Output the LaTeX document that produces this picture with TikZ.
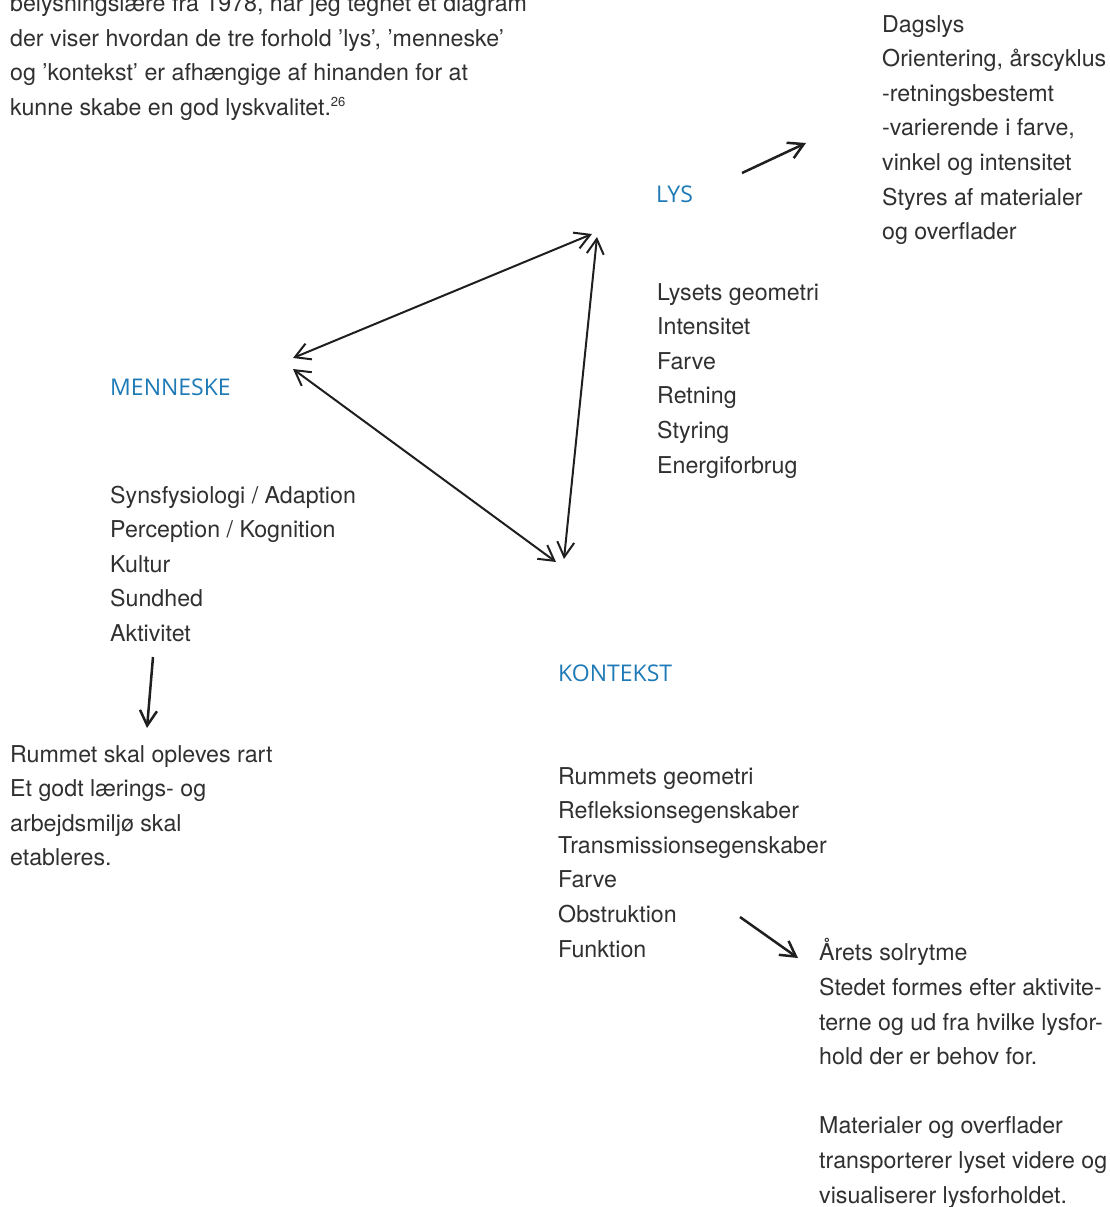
\documentclass[tikz,border=0pt]{standalone}
\usepackage{fontspec}
\setmainfont{TeX Gyre Heros}
\newfontfamily\headfont{Open Sans}
\usetikzlibrary{arrows.meta}
\definecolor{bodygray}{RGB}{48,48,48}
\definecolor{headblue}{RGB}{30,122,182}
\tikzset{
  body/.style={anchor=base west, inner sep=0pt, text=bodygray, align=left,
    font=\fontsize{23.2}{34.6}\selectfont},
  head/.style={anchor=base west, inner sep=0pt, text=headblue,
    font=\headfont\fontsize{23}{24}\selectfont},
  barb/.tip={Straight Barb[length=15pt,width=17pt]},
  arr/.style={draw=black!88, line width=2.5pt, -barb},
  darr/.style={draw=black!88, line width=2pt, barb-barb}
}
\begin{document}
\begin{tikzpicture}[x=1pt,y=-1pt]
\useasboundingbox (0,0) rectangle (1109,1207);
\clip (0,0) rectangle (1109,1207);
% intro paragraph (anchored at the baseline of its last line)
\node[body] (intro) at (10,115.3) {belysningslære fra 1978, har jeg tegnet et diagram\\
der viser hvordan de tre forhold ’lys’, ’menneske’\\
og ’kontekst’ er afhængige af hinanden for at\\
kunne skabe en god lyskvalitet.\textsuperscript{\fontsize{13}{13}\selectfont 26}};
% headings
\node[head] (lys) at (656,202) {LYS};
\node[head] (men) at (110,395) {MENNESKE};
\node[head] (kon) at (558,681) {KONTEKST};
% blocks (anchored at the baseline of their last line)
\node[body] (dag) at (882,239.6) {Dagslys\\Orientering, årscyklus\\-retningsbestemt\\-varierende i farve,\\vinkel og intensitet\\Styres af materialer\\og overflader};
\node[body] (lysb) at (657,473) {Lysets geometri\\Intensitet\\Farve\\Retning\\Styring\\Energiforbrug};
\node[body] (menb) at (110,641.4) {Synsfysiologi / Adaption\\Perception / Kognition\\Kultur\\Sundhed\\Aktivitet};
\node[body] (rum) at (10,865.8) {Rummet skal opleves rart\\Et godt lærings- og\\arbejdsmiljø skal\\etableres.};
\node[body] (konb) at (558,957) {Rummets geometri\\Refleksionsegenskaber\\Transmissionsegenskaber\\Farve\\Obstruktion\\Funktion};
\node[body] (aar) at (819,1203) {Årets solrytme\\Stedet formes efter aktivite-\\terne og ud fra hvilke lysfor-\\hold der er behov for.\\[34.6pt]Materialer og overflader\\transporterer lyset videre og\\visualiserer lysforholdet.};
% arrow end points
\coordinate (lysA) at (742,173);
\coordinate (lysZ) at (806,143);
\coordinate (lysL) at (592,234);
\coordinate (menT) at (293,358);
\coordinate (menB) at (293,369);
\coordinate (konT) at (556,562);
\coordinate (lysD) at (597,237);
\coordinate (konR) at (564,559);
\coordinate (menA) at (153,657);
\coordinate (menZ) at (147,728);
\coordinate (konA) at (740,917);
\coordinate (konZ) at (798,958);
% connectors
\draw[arr] (lysA) -- (lysZ);
\draw[darr] (menT) -- (lysL);
\draw[darr] (menB) -- (konT);
\draw[darr] (konR) -- (lysD);
\draw[arr] (menA) -- (menZ);
\draw[arr] (konA) -- (konZ);
\end{tikzpicture}
\end{document}
